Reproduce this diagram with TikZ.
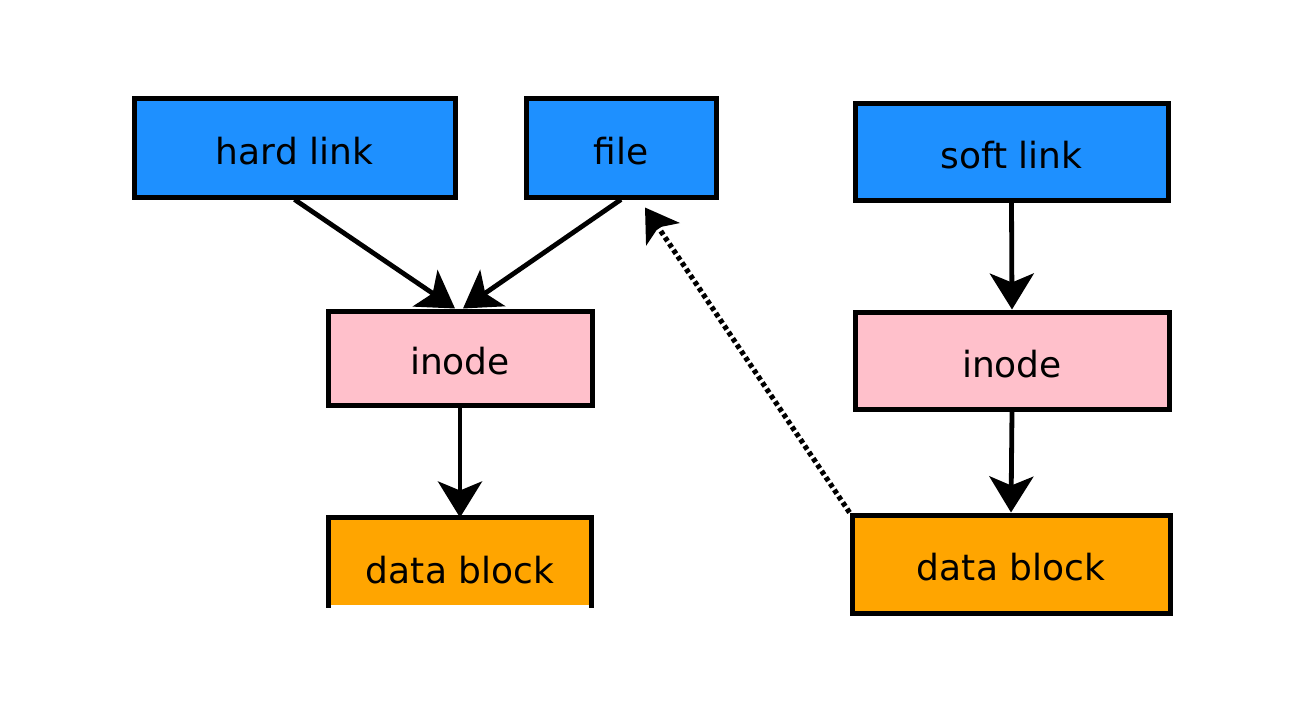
\documentclass[tikz,border=0pt]{standalone}
\usepackage{fontspec}
\setmainfont{DejaVu Sans}
\usetikzlibrary{arrows.meta}
\definecolor{bluebox}{HTML}{1E90FF}
\definecolor{pinkbox}{HTML}{FFC0CB}
\definecolor{orangebox}{HTML}{FFA500}
\begin{document}
\begin{tikzpicture}[x=0.5pt,y=-0.5pt,
  txt/.style={font=\fontsize{18}{21}\selectfont, text height=16.5pt, text depth=0pt},
  box/.style={draw=black, line width=2.5pt, inner sep=0pt, txt},
  linkbox/.style={box, fill=bluebox},
  inodebox/.style={box, fill=pinkbox},
  databox/.style={box, fill=orangebox},
  conn/.style={line width=2.4pt, -{Stealth[length=18pt,width=22pt,inset=4.5pt]}},
  dotconn/.style={line width=2.6pt, dash pattern=on 2.2pt off 1.6pt, -{Stealth[length=16pt,width=20pt,inset=4pt]}}
]
\useasboundingbox (0,0) rectangle (1296,728);
\fill[white] (0,0) rectangle (1296,728);
\node[linkbox, minimum width=160.5pt, minimum height=49.5pt] (hl) at (294.5,147.5) {hard link};
\node[linkbox, minimum width=95pt, minimum height=49.5pt] (file) at (621,147.5) {file};
\node[linkbox, minimum width=156.5pt, minimum height=48.5pt] (sl) at (1011.5,151.5) {soft link};
\node[inodebox, minimum width=132pt, minimum height=47pt] (il) at (460,358) {inode};
\node[inodebox, minimum width=157pt, minimum height=48.5pt] (ir) at (1012,360.5) {inode};
\node[databox, draw=none, minimum width=129pt, minimum height=42.5pt] (dl) at (460,562.5) {};
\draw[line width=2.5pt] (dl.south west) |- (dl.north east) -- (dl.south east);
\node[txt, inner sep=0pt] (dltext) at (460,567) {data block};
\node[databox, minimum width=159pt, minimum height=49pt] (dr) at (1011,564) {data block};
\draw[conn] (hl.south) -- ([xshift=-2.5pt]il.north);
\draw[conn] (file.south) -- ([xshift=1.5pt]il.north);
\draw[conn] (il.south) -- (dl.north);
\draw[conn] (sl.south) -- (ir.north);
\draw[conn] (ir.south) -- (dr.north);
\coordinate (filept) at ([xshift=12pt,yshift=-4pt]file.south);
\draw[dotconn] (dr.north west) -- (filept);
\end{tikzpicture}
\end{document}
